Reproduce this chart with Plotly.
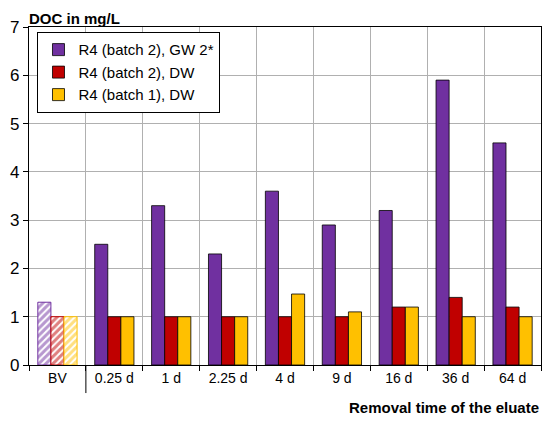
import plotly.graph_objects as go

categories = ["BV", "0.25 d", "1 d", "2.25 d", "4 d", "9 d", "16 d", "36 d", "64 d"]
gw2_b2 = [1.3, 2.5, 3.3, 2.3, 3.6, 2.9, 3.2, 5.9, 4.6]
dw_b2 = [1.0, 1.0, 1.0, 1.0, 1.0, 1.0, 1.2, 1.4, 1.2]
dw_b1 = [1.0, 1.0, 1.0, 1.0, 1.47, 1.1, 1.2, 1.0, 1.0]
series_names = ["R4 (batch 2), GW 2*", "R4 (batch 2), DW", "R4 (batch 1), DW"]
colors = ["#7030A0", "#C00000", "#FFC000"]

fig = go.Figure()
for i, (name, vals, col) in enumerate(zip(series_names, [gw2_b2, dw_b2, dw_b1], colors)):
    fig.add_trace(go.Bar(
        x=categories[1:], y=vals[1:], name=name, offsetgroup=str(i),
        marker=dict(color=col, line=dict(color="#000000", width=0.8)),
        showlegend=True,
    ))
    fig.add_trace(go.Bar(
        x=categories[:1], y=vals[:1], name=name, offsetgroup=str(i),
        marker=dict(color="white", line=dict(color=col, width=1),
                    pattern=dict(shape="/", fgcolor=col, bgcolor="white", size=5, solidity=0.6)),
        showlegend=False,
    ))

# page body adds an 8px offset; figure sized so the plot lands where the reference has it
fig.update_layout(
    width=542, height=413,
    margin=dict(l=21, r=9, t=19, b=56, autoexpand=False),
    paper_bgcolor="white", plot_bgcolor="white",
    barmode="group", bargap=0.31, bargroupgap=0,
    font=dict(family="Liberation Sans, Arial, sans-serif", size=14, color="#000000"),
    showlegend=True,
    legend=dict(x=0.016, y=0.985, xanchor="left", yanchor="top",
                bordercolor="#000000", borderwidth=1.3, bgcolor="white",
                font=dict(size=15), itemwidth=30, tracegroupgap=9),
    xaxis=dict(type="category", categoryorder="array", categoryarray=categories,
               tickson="boundaries", ticks="outside", ticklen=5, tickcolor="#000000",
               showgrid=True, gridcolor="#b0b0b0", gridwidth=1,
               showline=True, linecolor="#000000", linewidth=1.3, mirror=True,
               tickfont=dict(size=14), automargin=False),
    yaxis=dict(range=[0, 7], dtick=1, ticks="outside", ticklen=5, tickcolor="#000000",
               showgrid=True, gridcolor="#b0b0b0", gridwidth=1,
               showline=True, linecolor="#000000", linewidth=1.3, mirror=True,
               tickfont=dict(size=17), zeroline=False, automargin=False),
    annotations=[
        dict(text="<b>DOC in mg/L</b>", xref="paper", yref="paper", x=-0.003, y=1.056,
             xanchor="left", yanchor="top", showarrow=False, font=dict(size=15)),
        dict(text="<b>Removal time of the eluate</b>", xref="paper", yref="paper", x=1.0, y=-0.127,
             xanchor="right", yanchor="middle", showarrow=False, font=dict(size=15)),
    ],
    shapes=[
        dict(type="line", xref="x", yref="paper", x0=0.5, x1=0.5, y0=0, y1=-0.083,
             line=dict(color="#000000", width=1)),
    ],
)

fig.write_html("out.html")
